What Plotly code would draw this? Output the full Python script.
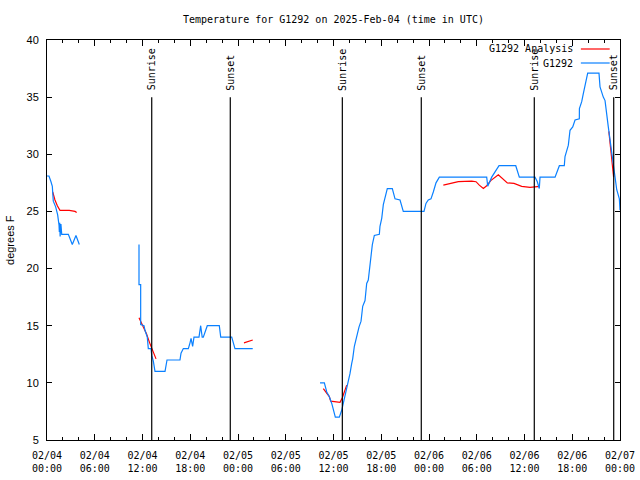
import plotly.graph_objects as go

# hours since 2025-02-04 00:00 UTC
obs_hours = [0, 0.25, 0.5, 0.67, 0.72, 0.79, 1.09, 1.34, 1.51, 1.55, 1.6, 1.65, 1.75, 1.85, 2.05, 2.68, 3.18, 3.64, 4.06,
             None,
             11.56, 11.56, 11.77, 11.77, 12.19, 12.31, 12.6, 12.73, 13.07, 13.16, 13.36, 13.57, 14.83, 15.08, 16.71,
             16.84, 17.13, 17.76, 17.97, 18.1, 18.3, 18.47, 19.1, 19.31, 19.5, 19.64, 20.14, 21.65, 21.83, 23.21,
             23.62, 25.85,
             None,
             34.31, 34.85, 35.15, 35.47, 35.78, 35.98, 36.23, 36.73, 37.03, 37.23, 37.53, 37.86, 38.07, 38.29, 38.41,
             38.62, 38.92, 39.21, 39.46, 39.67, 39.96, 40.17, 40.37, 40.59, 40.68, 40.88, 41.13, 41.76, 41.84, 42.06,
             42.26, 42.47, 42.76, 43.39, 43.73, 44.36, 44.77, 47.37, 47.62, 47.91, 48.25, 48.54, 48.88, 49.3, 55.25,
             55.38, 55.58, 55.88, 56.8, 58.9, 59.35, 61.32, 61.61, 61.86, 61.95, 63.84, 64.38, 65.0, 65.09, 65.51,
             65.72, 66.06, 66.35, 66.89, 66.9, 67.19, 67.39, 67.6, 67.94, 69.36, 69.49, 69.9, 70.12, 70.53, 70.75,
             70.96, 71.16, 71.37, 71.59, 71.92, 72.0]
obs_temp = [28.1, 28.1, 27.6, 27.2, 26.6, 25.9, 25.4, 24.7, 23.8, 23.2, 24.0, 22.8, 23.9, 23.0, 23.0, 23.0, 22.1, 22.9, 22.1,
            None,
            22.1, 18.6, 18.6, 15.1, 15.0, 14.6, 14.0, 13.0, 13.0, 12.4, 11.9, 11.0, 11.0, 12.0, 12.0,
            12.6, 13.0, 13.0, 13.5, 13.9, 13.2, 14.0, 14.0, 15.0, 14.0, 14.0, 15.0, 15.0, 14.0, 14.0,
            13.0, 13.0,
            None,
            10.0, 10.0, 9.2, 8.8, 8.2, 7.6, 7.0, 7.0, 7.6, 8.2, 9.1, 10.0, 10.8, 11.7, 12.1,
            13.2, 14.2, 14.9, 15.4, 16.7, 17.2, 18.7, 19.0, 20.5, 21.3, 22.1, 22.9, 23.0, 23.7, 24.4,
            25.6, 26.1, 27.0, 27.0, 26.1, 26.0, 25.0, 25.0, 25.7, 26.0, 26.1, 26.7, 27.5, 28.0, 28.0,
            27.2, 27.5, 28.0, 29.0, 29.0, 28.0, 28.0, 27.6, 27.0, 28.0, 28.0, 29.0, 29.0, 29.8, 30.8,
            32.1, 32.4, 33.0, 33.1, 34.0, 34.6, 35.3, 36.1, 37.1, 37.1, 35.9, 35.0, 34.7, 32.4, 31.2,
            29.9, 29.0, 27.7, 26.9, 26.1, 25.1]

ana_hours = [0.72, 1.0, 1.3, 1.63, 2.17, 2.8, 3.52, 3.73,
             None,
             11.56, 11.77, 12.1, 12.5, 12.9, 13.36, 13.7,
             None,
             24.75, 25.2, 25.85,
             None,
             34.72, 35.15, 35.47, 35.65, 36.82, 37.11, 37.45, 37.66,
             None,
             49.8, 50.43, 51.06, 51.68, 53.37, 53.91, 54.32, 54.83, 55.25, 55.76, 56.71, 57.34, 57.84, 58.68,
             59.65, 60.69, 61.32, 61.95,
             None,
             70.6, 70.9, 71.2]
ana_temp = [26.7, 26.0, 25.5, 25.1, 25.1, 25.1, 25.0, 24.9,
            None,
            15.7, 15.4, 14.9, 14.3, 13.5, 12.6, 12.1,
            None,
            13.5, 13.6, 13.75,
            None,
            9.5, 9.1, 8.8, 8.4, 8.3, 8.7, 9.4, 9.8,
            None,
            27.3, 27.4, 27.5, 27.6, 27.65, 27.6, 27.3, 27.0, 27.25, 27.7, 28.2, 27.8, 27.5, 27.45,
            27.2, 27.1, 27.15, 27.2,
            None,
            32.0, 30.0, 28.0]

sunrise_hours = [13.16, 37.11, 61.23]
sunset_hours = [23.03, 47.03, 71.21]

tick_hours = list(range(0, 73, 6))
tick_labels = ["02/04<br>00:00", "02/04<br>06:00", "02/04<br>12:00", "02/04<br>18:00",
               "02/05<br>00:00", "02/05<br>06:00", "02/05<br>12:00", "02/05<br>18:00",
               "02/06<br>00:00", "02/06<br>06:00", "02/06<br>12:00", "02/06<br>18:00",
               "02/07<br>00:00"]

MONO = "DejaVu Sans Mono"
SANS = "Liberation Sans"
RED = "#ff0000"
BLUE = "#0a80ff"

fig = go.Figure()
fig.add_trace(go.Scatter(x=ana_hours, y=ana_temp, mode="lines", name="G1292 Analysis",
                         line=dict(color=RED, width=1.2), connectgaps=False, showlegend=False))
fig.add_trace(go.Scatter(x=obs_hours, y=obs_temp, mode="lines", name="G1292",
                         line=dict(color=BLUE, width=1.2), connectgaps=False, showlegend=False))

line_top = 35.0
label_bottom = 35.4
for h in sunrise_hours:
    fig.add_shape(type="line", xref="x", yref="y", x0=h, x1=h, y0=5, y1=line_top,
                  line=dict(color="black", width=1.2))
    fig.add_annotation(x=h, y=label_bottom, xref="x", yref="y", text="Sunrise", textangle=-90,
                       showarrow=False, xanchor="center", yanchor="bottom",
                       font=dict(family=MONO, size=10, color="black"))
for h in sunset_hours:
    fig.add_shape(type="line", xref="x", yref="y", x0=h, x1=h, y0=5, y1=line_top,
                  line=dict(color="black", width=1.2))
    fig.add_annotation(x=h, y=label_bottom, xref="x", yref="y", text="Sunset", textangle=-90,
                       showarrow=False, xanchor="center", yanchor="bottom",
                       font=dict(family=MONO, size=10, color="black"))

# manual gnuplot-style legend (text left, sample right)
legend_items = [("G1292 Analysis", RED, 0.9775), ("G1292", BLUE, 0.9425)]
for name, col, yy in legend_items:
    fig.add_annotation(x=0.921, y=yy, xref="paper", yref="paper", text=name, showarrow=False,
                       xanchor="right", yanchor="middle", font=dict(family=MONO, size=10, color="black"))
    fig.add_shape(type="line", xref="paper", yref="paper", x0=0.9317, x1=0.982, y0=yy, y1=yy,
                  line=dict(color=col, width=1.2))

fig.add_annotation(x=-0.0646, y=0.5, xref="paper", yref="paper", text="degrees F", textangle=-90,
                   showarrow=False, xanchor="center", yanchor="middle",
                   font=dict(family=SANS, size=11, color="black"))

fig.update_layout(
    width=640, height=480,
    margin=dict(l=47, r=20, t=40, b=40, autoexpand=False),
    paper_bgcolor="white", plot_bgcolor="white",
    title=dict(text="Temperature for G1292 on 2025-Feb-04 (time in UTC)", x=0.521, xanchor="center",
               y=0.96, yanchor="middle", font=dict(family=MONO, size=10, color="black"),
               automargin=False),
    showlegend=False,
)
fig.update_xaxes(range=[0, 72], tickmode="array", tickvals=tick_hours, ticktext=tick_labels,
                 ticks="inside", ticklen=6, tickcolor="black", showline=True, linecolor="black", linewidth=1,
                 mirror="ticks", showgrid=False, zeroline=False, automargin=False,
                 minor=dict(dtick=2, tick0=0, ticks="inside", ticklen=3, tickcolor="black", showgrid=False),
                 tickfont=dict(family=MONO, size=10, color="black"), ticklabelstandoff=6)
fig.update_yaxes(range=[5, 40], tickmode="linear", tick0=5, dtick=5, automargin=False,
                 ticks="inside", ticklen=5, tickcolor="black", showline=True, linecolor="black", linewidth=1,
                 mirror="ticks", showgrid=False, zeroline=False,
                 tickfont=dict(family=SANS, size=11, color="black"), ticklabelstandoff=5)

fig.write_html("out.html", config={"displayModeBar": False},
               post_script="document.body.style.margin='0';document.body.style.padding='0';")
